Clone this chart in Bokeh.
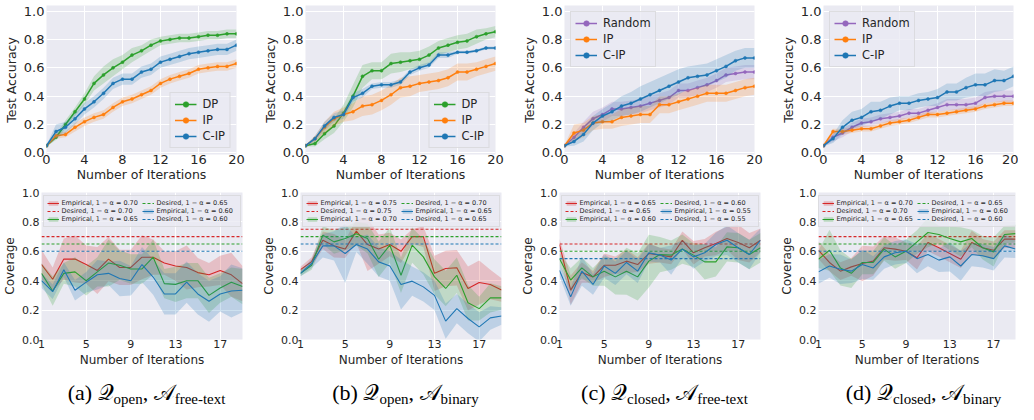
import numpy as np
from bokeh.plotting import figure
from bokeh.layouts import column, row
from bokeh.models import Legend, LegendItem, Div, FixedTicker, Range1d, PrintfTickFormatter
from bokeh.embed import file_html
from bokeh.resources import INLINE

# ---------------- data ----------------
acc_iters = list(range(0, 21))
cov_iters = list(range(1, 20))
acc_xticks = [0, 4, 8, 12, 16, 20]
cov_xticks = [1, 5, 9, 13, 17]
y_ticks = [0.0, 0.2, 0.4, 0.6, 0.8, 1.0]

# (a) Q_open, A_free-text : test accuracy
a_dp = [0.05, 0.11, 0.20, 0.29, 0.38, 0.49, 0.55, 0.60, 0.64, 0.69, 0.72, 0.76, 0.79, 0.80, 0.81, 0.81, 0.82, 0.83, 0.83, 0.84, 0.84]
a_dp_err = [0.005, 0.02, 0.03, 0.03, 0.04, 0.05, 0.06, 0.06, 0.05, 0.05, 0.04, 0.04, 0.03, 0.03, 0.03, 0.03, 0.03, 0.03, 0.03, 0.03, 0.03]
a_ip = [0.05, 0.12, 0.13, 0.18, 0.22, 0.25, 0.27, 0.32, 0.36, 0.38, 0.41, 0.44, 0.49, 0.52, 0.54, 0.56, 0.59, 0.60, 0.61, 0.61, 0.63]
a_ip_err = [0.005, 0.02, 0.02, 0.03, 0.03, 0.03, 0.03, 0.03, 0.03, 0.03, 0.03, 0.03, 0.03, 0.03, 0.03, 0.03, 0.03, 0.03, 0.03, 0.03, 0.03]
a_cip = [0.05, 0.15, 0.18, 0.24, 0.31, 0.36, 0.42, 0.49, 0.52, 0.52, 0.57, 0.59, 0.64, 0.66, 0.68, 0.70, 0.71, 0.72, 0.73, 0.73, 0.76]
a_cip_err = [0.005, 0.05, 0.04, 0.04, 0.04, 0.04, 0.04, 0.04, 0.04, 0.04, 0.04, 0.04, 0.04, 0.04, 0.04, 0.04, 0.04, 0.04, 0.04, 0.04, 0.04]

# (b) Q_open, A_binary : test accuracy
b_dp = [0.05, 0.065, 0.135, 0.19, 0.28, 0.40, 0.54, 0.58, 0.58, 0.63, 0.64, 0.65, 0.66, 0.69, 0.74, 0.76, 0.78, 0.79, 0.82, 0.84, 0.855]
b_dp_err = [0.005, 0.02, 0.04, 0.05, 0.06, 0.08, 0.08, 0.06, 0.06, 0.07, 0.07, 0.06, 0.06, 0.06, 0.05, 0.05, 0.05, 0.05, 0.05, 0.04, 0.04]
b_ip = [0.05, 0.10, 0.18, 0.24, 0.27, 0.29, 0.33, 0.34, 0.37, 0.41, 0.46, 0.47, 0.49, 0.50, 0.51, 0.53, 0.57, 0.57, 0.59, 0.61, 0.63]
b_ip_err = [0.005, 0.02, 0.04, 0.05, 0.05, 0.06, 0.07, 0.07, 0.07, 0.07, 0.07, 0.07, 0.06, 0.06, 0.06, 0.06, 0.06, 0.06, 0.05, 0.05, 0.05]
b_cip = [0.05, 0.10, 0.19, 0.25, 0.27, 0.39, 0.42, 0.47, 0.48, 0.48, 0.50, 0.57, 0.60, 0.62, 0.69, 0.69, 0.71, 0.71, 0.72, 0.74, 0.74]
b_cip_err = [0.005, 0.02, 0.03, 0.03, 0.03, 0.03, 0.03, 0.02, 0.02, 0.02, 0.02, 0.02, 0.02, 0.02, 0.02, 0.02, 0.01, 0.01, 0.01, 0.01, 0.01]

# (c) Q_closed, A_free-text : test accuracy
c_rand = [0.05, 0.11, 0.18, 0.24, 0.27, 0.31, 0.31, 0.32, 0.33, 0.35, 0.37, 0.39, 0.44, 0.44, 0.46, 0.48, 0.51, 0.55, 0.56, 0.57, 0.57]
c_rand_err = [0.005, 0.03, 0.04, 0.05, 0.05, 0.05, 0.05, 0.05, 0.05, 0.05, 0.05, 0.05, 0.05, 0.05, 0.05, 0.05, 0.05, 0.05, 0.05, 0.05, 0.05]
c_ip = [0.05, 0.14, 0.16, 0.21, 0.22, 0.22, 0.25, 0.26, 0.27, 0.27, 0.34, 0.34, 0.36, 0.38, 0.40, 0.42, 0.42, 0.42, 0.44, 0.46, 0.47]
c_ip_err = [0.005, 0.06, 0.05, 0.05, 0.05, 0.05, 0.06, 0.06, 0.06, 0.06, 0.06, 0.06, 0.06, 0.06, 0.06, 0.06, 0.06, 0.06, 0.06, 0.06, 0.06]
c_cip = [0.05, 0.08, 0.13, 0.21, 0.26, 0.29, 0.33, 0.35, 0.38, 0.41, 0.44, 0.47, 0.50, 0.53, 0.54, 0.55, 0.58, 0.61, 0.65, 0.67, 0.67]
c_cip_err = [0.005, 0.03, 0.05, 0.05, 0.05, 0.06, 0.07, 0.08, 0.09, 0.09, 0.09, 0.09, 0.09, 0.08, 0.08, 0.08, 0.08, 0.08, 0.07, 0.07, 0.07]

# (d) Q_closed, A_binary : test accuracy
d_rand = [0.05, 0.11, 0.14, 0.18, 0.21, 0.22, 0.24, 0.25, 0.26, 0.28, 0.28, 0.30, 0.32, 0.34, 0.34, 0.34, 0.35, 0.39, 0.40, 0.40, 0.40]
d_rand_err = [0.005, 0.03, 0.03, 0.03, 0.03, 0.03, 0.03, 0.03, 0.03, 0.03, 0.03, 0.03, 0.03, 0.04, 0.04, 0.04, 0.04, 0.04, 0.04, 0.04, 0.04]
d_ip = [0.05, 0.15, 0.15, 0.16, 0.17, 0.17, 0.19, 0.21, 0.22, 0.23, 0.25, 0.27, 0.27, 0.28, 0.29, 0.30, 0.31, 0.33, 0.34, 0.35, 0.35]
d_ip_err = [0.005, 0.02, 0.02, 0.02, 0.02, 0.02, 0.02, 0.02, 0.02, 0.02, 0.02, 0.02, 0.02, 0.02, 0.02, 0.02, 0.02, 0.02, 0.02, 0.02, 0.02]
d_cip = [0.05, 0.10, 0.18, 0.23, 0.25, 0.29, 0.30, 0.33, 0.35, 0.35, 0.37, 0.38, 0.39, 0.43, 0.43, 0.46, 0.48, 0.48, 0.51, 0.51, 0.54]
d_cip_err = [0.005, 0.03, 0.05, 0.06, 0.06, 0.07, 0.06, 0.06, 0.05, 0.05, 0.05, 0.05, 0.06, 0.06, 0.06, 0.07, 0.08, 0.08, 0.08, 0.07, 0.07]

# coverage (bottom row): desired levels 1 - alpha per panel
a_levels = [0.70, 0.65, 0.60]
b_levels = [0.75, 0.70, 0.65]
c_levels = [0.65, 0.60, 0.55]
d_levels = [0.70, 0.65, 0.60]

a_cov_r = [0.51, 0.41, 0.547, 0.547, 0.51, 0.47, 0.547, 0.49, 0.49, 0.56, 0.56, 0.52, 0.50, 0.49, 0.455, 0.44, 0.47, 0.44, 0.38]
a_cov_r_err = [0.10, 0.08, 0.14, 0.16, 0.13, 0.16, 0.15, 0.12, 0.12, 0.15, 0.12, 0.08, 0.10, 0.15, 0.10, 0.08, 0.10, 0.15, 0.12]
a_cov_g = [0.45, 0.33, 0.45, 0.46, 0.40, 0.46, 0.52, 0.505, 0.48, 0.48, 0.56, 0.38, 0.375, 0.40, 0.40, 0.30, 0.35, 0.39, 0.36]
a_cov_g_err = [0.07, 0.10, 0.07, 0.10, 0.10, 0.10, 0.16, 0.10, 0.10, 0.10, 0.12, 0.10, 0.12, 0.12, 0.12, 0.12, 0.10, 0.10, 0.12]
a_cov_b = [0.40, 0.325, 0.475, 0.335, 0.39, 0.44, 0.45, 0.415, 0.40, 0.51, 0.425, 0.31, 0.31, 0.39, 0.31, 0.26, 0.31, 0.33, 0.335]
a_cov_b_err = [0.05, 0.05, 0.05, 0.07, 0.07, 0.10, 0.08, 0.12, 0.10, 0.12, 0.12, 0.14, 0.14, 0.14, 0.14, 0.14, 0.12, 0.18, 0.15]

b_cov_r = [0.475, 0.53, 0.675, 0.637, 0.615, 0.737, 0.646, 0.615, 0.646, 0.60, 0.70, 0.70, 0.45, 0.483, 0.488, 0.347, 0.388, 0.374, 0.336]
b_cov_r_err = [0.02, 0.03, 0.06, 0.08, 0.06, 0.08, 0.18, 0.10, 0.08, 0.08, 0.05, 0.07, 0.12, 0.12, 0.12, 0.15, 0.15, 0.10, 0.08]
b_cov_g = [0.45, 0.505, 0.71, 0.664, 0.687, 0.72, 0.687, 0.546, 0.642, 0.437, 0.642, 0.562, 0.426, 0.347, 0.437, 0.25, 0.21, 0.283, 0.283]
b_cov_g_err = [0.02, 0.03, 0.06, 0.08, 0.08, 0.08, 0.10, 0.12, 0.12, 0.12, 0.12, 0.12, 0.12, 0.12, 0.12, 0.12, 0.08, 0.10, 0.08]
b_cov_b = [0.45, 0.517, 0.637, 0.637, 0.585, 0.646, 0.615, 0.528, 0.50, 0.374, 0.397, 0.358, 0.30, 0.125, 0.21, 0.143, 0.086, 0.147, 0.16]
b_cov_b_err = [0.02, 0.03, 0.08, 0.10, 0.20, 0.05, 0.10, 0.10, 0.10, 0.17, 0.10, 0.10, 0.10, 0.12, 0.10, 0.10, 0.10, 0.08, 0.06]

c_cov_r = [0.646, 0.336, 0.456, 0.426, 0.505, 0.505, 0.533, 0.51, 0.585, 0.574, 0.562, 0.675, 0.59, 0.624, 0.653, 0.687, 0.66, 0.624, 0.675]
c_cov_r_err = [0.04, 0.10, 0.07, 0.04, 0.08, 0.06, 0.08, 0.05, 0.07, 0.05, 0.05, 0.06, 0.08, 0.06, 0.08, 0.08, 0.12, 0.10, 0.08]
c_cov_g = [0.55, 0.404, 0.487, 0.426, 0.465, 0.426, 0.465, 0.426, 0.533, 0.578, 0.574, 0.615, 0.574, 0.528, 0.528, 0.63, 0.624, 0.578, 0.624]
c_cov_g_err = [0.04, 0.08, 0.07, 0.06, 0.10, 0.12, 0.16, 0.16, 0.18, 0.12, 0.10, 0.10, 0.08, 0.12, 0.10, 0.10, 0.10, 0.10, 0.10]
c_cov_b = [0.47, 0.29, 0.465, 0.374, 0.50, 0.45, 0.524, 0.465, 0.59, 0.574, 0.54, 0.615, 0.562, 0.59, 0.646, 0.675, 0.624, 0.578, 0.675]
c_cov_b_err = [0.04, 0.06, 0.10, 0.07, 0.08, 0.08, 0.08, 0.08, 0.06, 0.05, 0.10, 0.06, 0.08, 0.06, 0.08, 0.10, 0.10, 0.10, 0.08]

d_cov_r = [0.607, 0.524, 0.465, 0.494, 0.517, 0.533, 0.624, 0.615, 0.60, 0.556, 0.66, 0.624, 0.585, 0.546, 0.66, 0.624, 0.607, 0.683, 0.683]
d_cov_r_err = [0.06, 0.06, 0.06, 0.06, 0.12, 0.10, 0.08, 0.08, 0.06, 0.08, 0.06, 0.06, 0.06, 0.06, 0.08, 0.06, 0.06, 0.06, 0.06]
d_cov_g = [0.546, 0.607, 0.487, 0.45, 0.524, 0.524, 0.615, 0.562, 0.60, 0.664, 0.728, 0.714, 0.687, 0.664, 0.687, 0.624, 0.596, 0.714, 0.72]
d_cov_g_err = [0.06, 0.14, 0.12, 0.10, 0.08, 0.08, 0.08, 0.08, 0.08, 0.08, 0.10, 0.06, 0.08, 0.10, 0.06, 0.08, 0.10, 0.06, 0.06]
d_cov_b = [0.46, 0.50, 0.478, 0.465, 0.51, 0.487, 0.562, 0.59, 0.60, 0.55, 0.578, 0.54, 0.562, 0.50, 0.578, 0.57, 0.55, 0.637, 0.615]
d_cov_b_err = [0.08, 0.08, 0.10, 0.08, 0.10, 0.08, 0.08, 0.08, 0.08, 0.10, 0.08, 0.08, 0.10, 0.10, 0.08, 0.08, 0.08, 0.08, 0.06]

captions = [
    "(a) 𝒬<sub>open</sub>, 𝒜<sub>free-text</sub>",
    "(b) 𝒬<sub>open</sub>, 𝒜<sub>binary</sub>",
    "(c) 𝒬<sub>closed</sub>, 𝒜<sub>free-text</sub>",
    "(d) 𝒬<sub>closed</sub>, 𝒜<sub>binary</sub>",
]

# ---------------- style ----------------
BG = "#EAEAF2"
TXT = "#262626"
FONT = "DejaVu Sans"
GREEN, ORANGE, BLUE, PURPLE, RED = "#2ca02c", "#ff7f0e", "#1f77b4", "#9467bd", "#d62728"
COL_W = 259
LEFT = 40


def base_style(p, xticks, tick_px, label_px, xlabel, ylabel, xlab_standoff):
    p.background_fill_color = BG
    p.border_fill_color = "white"
    p.outline_line_color = None
    p.xgrid.ticker = FixedTicker(ticks=xticks)
    p.ygrid.ticker = FixedTicker(ticks=y_ticks)
    p.grid.grid_line_color = "white"
    p.grid.grid_line_width = 1
    p.xaxis.ticker = FixedTicker(ticks=xticks)
    p.yaxis.ticker = FixedTicker(ticks=y_ticks)
    p.yaxis.formatter = PrintfTickFormatter(format="%.1f")
    for ax in (p.xaxis[0], p.yaxis[0]):
        ax.axis_line_color = None
        ax.major_tick_line_color = None
        ax.minor_tick_line_color = None
        ax.major_tick_out = 0
        ax.major_tick_in = 0
        ax.major_label_text_font = FONT
        ax.major_label_text_font_size = f"{tick_px}px"
        ax.major_label_text_color = TXT
        ax.major_label_standoff = 2
        ax.axis_label_text_font = FONT
        ax.axis_label_text_font_size = f"{label_px}px"
        ax.axis_label_text_font_style = "normal"
        ax.axis_label_text_color = TXT
        ax.axis_label_standoff = 2
    p.xaxis[0].major_label_standoff = 0
    p.xaxis[0].axis_label_standoff = xlab_standoff
    p.xaxis.axis_label = xlabel
    p.yaxis.axis_label = ylabel


def top_panel(series, loc, width, rborder):
    p = figure(width=width, height=184, output_backend="svg", toolbar_location=None,
               x_range=Range1d(0, 20), y_range=Range1d(-0.012, 1.04),
               min_border_left=LEFT, min_border_right=rborder, min_border_top=5, min_border_bottom=0)
    base_style(p, acc_xticks, 13, 12.5, "Number of Iterations", "Test Accuracy", 0)
    items = []
    for name, mean, err, color in series:
        m = np.array(mean)
        e = np.array(err)
        p.varea(x=acc_iters, y1=m - e, y2=m + e, fill_color=color, fill_alpha=0.2)
        ln = p.line(acc_iters, mean, line_color=color, line_width=1.5)
        sc = p.scatter(acc_iters, mean, marker="circle", size=3, fill_color=color,
                       line_color=color, line_width=0.5)
        items.append(LegendItem(label=name, renderers=[ln, sc]))
    leg = Legend(items=items, location=loc, margin=6, padding=4, spacing=2,
                 glyph_width=22, glyph_height=14, label_height=14, label_standoff=6,
                 label_text_font=FONT, label_text_font_size="11.5px", label_text_color=TXT,
                 background_fill_color=BG, background_fill_alpha=0.8,
                 border_line_color="#cccccc", border_line_width=1)
    p.add_layout(leg, "center")
    return p


def bottom_panel(emps, errs, levels, width, rborder):
    p = figure(width=width, height=185, output_backend="svg", toolbar_location=None,
               x_range=Range1d(1, 19), y_range=Range1d(0, 1.0),
               min_border_left=LEFT, min_border_right=rborder, min_border_top=8, min_border_bottom=0)
    base_style(p, cov_xticks, 11, 12, "Number of Iterations", "Coverage", 2)
    colors = [RED, GREEN, BLUE]
    emp_items, des_items = [], []
    for mean, err, lvl, color in zip(emps, errs, levels, colors):
        m = np.array(mean)
        e = np.array(err)
        band = p.varea(x=cov_iters, y1=m - e, y2=m + e, fill_color=color, fill_alpha=0.22)
        ln = p.line(cov_iters, mean, line_color=color, line_width=1.1)
        ds = p.line([cov_iters[0], cov_iters[-1]], [lvl, lvl], line_color=color,
                    line_width=1.1, line_dash="3 2")
        emp_items.append(LegendItem(label=f"Empirical, 1 − α = {lvl:.2f}", renderers=[band, ln]))
        des_items.append(LegendItem(label=f"Desired, 1 − α = {lvl:.2f}", renderers=[ds]))
    ordered = [emp_items[0], des_items[0], emp_items[1], des_items[1], emp_items[2], des_items[2]]
    leg = Legend(items=ordered, location="top", margin=3, padding=3, spacing=0, ncols=2,
                 glyph_width=12, glyph_height=6, label_height=8, label_width=80, label_standoff=3,
                 label_text_font=FONT, label_text_font_size="6.5px", label_text_color=TXT,
                 background_fill_color=BG, background_fill_alpha=0.8,
                 border_line_color="#cccccc", border_line_width=1)
    p.add_layout(leg, "center")
    return p


top_specs = [
    ([("DP", a_dp, a_dp_err, GREEN), ("IP", a_ip, a_ip_err, ORANGE), ("C-IP", a_cip, a_cip_err, BLUE)], "bottom_right"),
    ([("DP", b_dp, b_dp_err, GREEN), ("IP", b_ip, b_ip_err, ORANGE), ("C-IP", b_cip, b_cip_err, BLUE)], "bottom_right"),
    ([("Random", c_rand, c_rand_err, PURPLE), ("IP", c_ip, c_ip_err, ORANGE), ("C-IP", c_cip, c_cip_err, BLUE)], "top_left"),
    ([("Random", d_rand, d_rand_err, PURPLE), ("IP", d_ip, d_ip_err, ORANGE), ("C-IP", d_cip, d_cip_err, BLUE)], "top_left"),
]
bottom_specs = [
    ([a_cov_r, a_cov_g, a_cov_b], [a_cov_r_err, a_cov_g_err, a_cov_b_err], a_levels),
    ([b_cov_r, b_cov_g, b_cov_b], [b_cov_r_err, b_cov_g_err, b_cov_b_err], b_levels),
    ([c_cov_r, c_cov_g, c_cov_b], [c_cov_r_err, c_cov_g_err, c_cov_b_err], c_levels),
    ([d_cov_r, d_cov_g, d_cov_b], [d_cov_r_err, d_cov_g_err, d_cov_b_err], d_levels),
]

tops, bottoms = [], []
for i, (series, loc) in enumerate(top_specs):
    last = i == 3
    w = 1018 - 3 * COL_W if last else COL_W
    rb = w - LEFT - 196
    tops.append(top_panel(series, loc, w, rb))
for i, (emps, errs, lv) in enumerate(bottom_specs):
    last = i == 3
    w = 1018 - 3 * COL_W if last else COL_W
    rb = 3 if last else w - LEFT - 202
    bottoms.append(bottom_panel(emps, errs, lv, w, rb))

cap_spans = "".join(
    f'<span style="display:inline-block;width:{COL_W}px;text-align:center">{c}</span>' for c in captions)
caption = Div(text=f'<style>sub{{font-size:0.68em;vertical-align:-0.3em;line-height:0}}</style>'
                   f'<div style="padding-left:12px;white-space:nowrap;font-family:\'Liberation Serif\';'
                   f'font-size:22px;color:#000;line-height:24px">{cap_spans}</div>',
              width=1018, height=26, styles={"margin-top": "12px"})

layout = column(row(*tops), row(*bottoms), caption, spacing=0)
open("out.html", "w").write(file_html(layout, INLINE))
